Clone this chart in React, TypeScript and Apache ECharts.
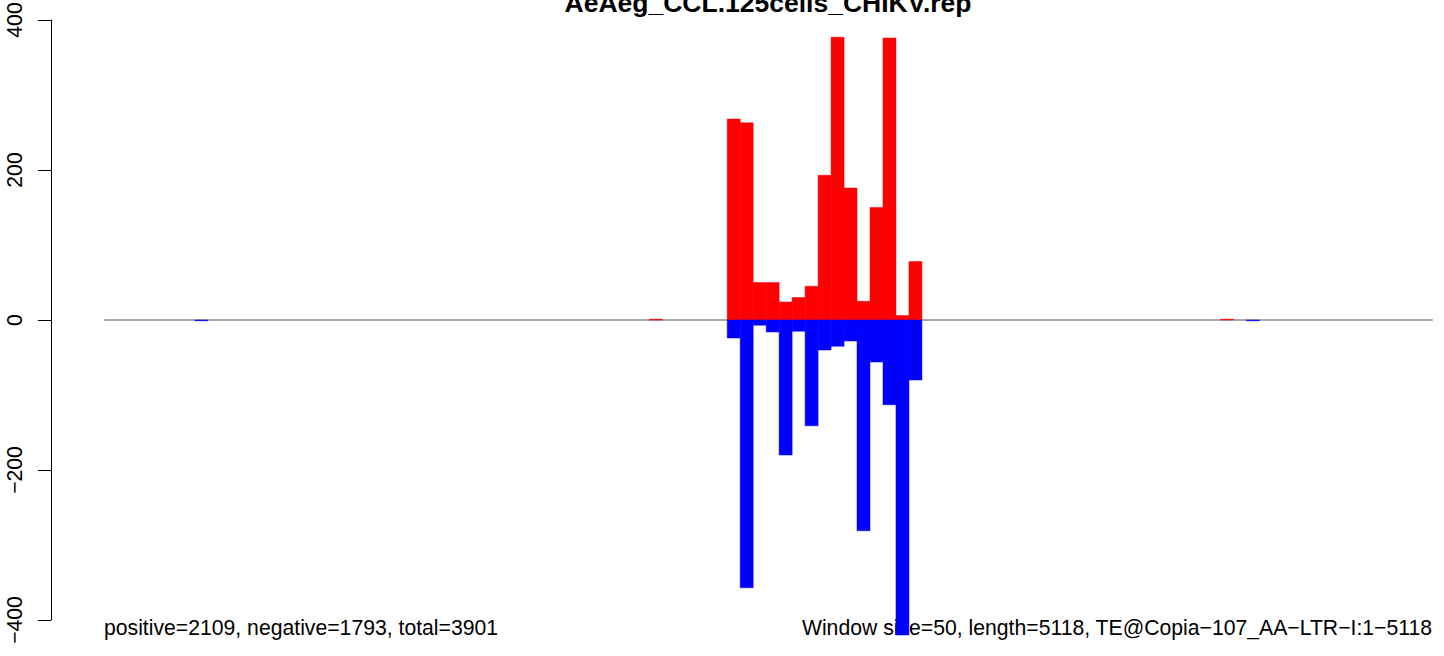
import React, { useEffect, useRef } from "react";
import * as echarts from "echarts";

// ---- data ----
const WINDOW_SIZE = 50;
const SEQ_LENGTH = 5118;
const TITLE = "AeAeg_CCL.125cells_CHIKV.rep";
const LEFT_NOTE = "positive=2109, negative=1793, total=3901";
const RIGHT_NOTE = "Window size=50, length=5118, TE@Copia\u2212107_AA\u2212LTR\u2212I:1\u22125118";
const windowStarts = [350, 2100, 2400, 2450, 2500, 2550, 2600, 2650, 2700, 2750, 2800, 2850, 2900, 2950, 3000, 3050, 3100, 4300, 4400];
const positiveCounts = [0, 1, 268, 263, 50, 50, 24, 30, 45, 193, 377, 176, 25, 150, 376, 6, 78, 1, 0];
const negativeCounts = [1, 0, 24, 357, 7, 16, 180, 15, 141, 40, 35, 28, 281, 56, 113, 420, 80, 0, 1];
const yTicks = [-400, -200, 0, 200, 400];

const FONT = "'Liberation Sans', Arial, Helvetica, sans-serif";

export default function App() {
  const ref = useRef<HTMLDivElement>(null);
  useEffect(() => {
    document.body.style.margin = "0";
    if (!ref.current) return;
    const chart = echarts.init(ref.current, undefined, { renderer: "svg" });
    const pad = SEQ_LENGTH * 0.04;
    const makeRender = (color: string) => (params: any, api: any) => {
      const x0 = api.value(0);
      const v = api.value(1);
      const a = api.coord([x0, 0]);
      const b = api.coord([x0 + WINDOW_SIZE, v]);
      return {
        type: "rect",
        shape: {
          x: a[0],
          y: Math.min(a[1], b[1]),
          width: b[0] - a[0],
          height: Math.abs(b[1] - a[1]),
        },
        style: { fill: color, stroke: v === 0 ? "none" : color, lineWidth: 0.5 },
      };
    };
    chart.setOption({
      animation: false,
      backgroundColor: "#ffffff",
      grid: {
        left: 51,
        top: 20,
        width: 1435,
        height: 600,
        containLabel: false,
        outerBoundsMode: "none",
      },
      xAxis: {
        type: "value",
        show: false,
        min: -pad,
        max: SEQ_LENGTH + pad,
      },
      yAxis: {
        type: "value",
        min: yTicks[0],
        max: yTicks[yTicks.length - 1],
        interval: 200,
        axisLine: { show: true, onZero: false, lineStyle: { color: "#000", width: 1 } },
        axisTick: { show: true, length: 13, lineStyle: { color: "#000", width: 1 } },
        splitLine: { show: false },
        axisLabel: {
          rotate: 90,
          margin: 26,
          fontSize: 21.2,
          color: "#000",
          fontFamily: FONT,
          formatter: (v: number) => (v < 0 ? "\u2212" + Math.abs(v) : String(v)),
        },
      },
      graphic: [
        {
          type: "text",
          z: 0,
          x: 768,
          y: 3,
          style: {
            text: TITLE,
            fontSize: 26.5,
            fontWeight: "bold",
            fontFamily: FONT,
            fill: "#000",
            align: "center",
            verticalAlign: "middle",
          },
        },
        {
          type: "text",
          z: 0,
          x: 104,
          y: 627,
          style: {
            text: LEFT_NOTE,
            fontSize: 21.2,
            fontFamily: FONT,
            fill: "#000",
            align: "left",
            verticalAlign: "middle",
          },
        },
        {
          type: "text",
          z: 0,
          x: 1432,
          y: 627,
          style: {
            text: RIGHT_NOTE,
            fontSize: 21.2,
            fontFamily: FONT,
            fill: "#000",
            align: "right",
            verticalAlign: "middle",
          },
        },
      ],
      series: [
        {
          type: "line",
          data: [
            [0, 0],
            [SEQ_LENGTH, 0],
          ],
          symbol: "none",
          silent: true,
          z: 1,
          lineStyle: { color: "#555555", width: 1 },
        },
        {
          type: "custom",
          name: "positive",
          z: 5,
          clip: false,
          renderItem: makeRender("#ff0000"),
          data: windowStarts.map((s, i) => [s, positiveCounts[i]]),
        },
        {
          type: "custom",
          name: "negative",
          z: 5,
          clip: false,
          renderItem: makeRender("#0000ff"),
          data: windowStarts.map((s, i) => [s, -negativeCounts[i]]),
        },
      ],
    });
    return () => chart.dispose();
  }, []);
  return <div ref={ref} style={{ width: 1444, height: 656 }} />;
}
